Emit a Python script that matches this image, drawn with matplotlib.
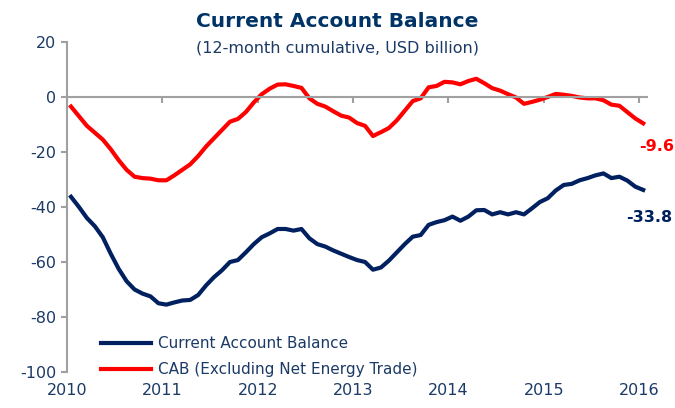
import matplotlib
matplotlib.use("Agg")
import matplotlib.pyplot as plt
import numpy as np

plt.rcParams['font.family'] = ['DejaVu Sans']
plt.rcParams['axes.unicode_minus'] = False

# monthly data, Jan 2010 .. Jan 2016 (USD billion, 12-month cumulative)
cab = [-36.3, -40.0, -44.0, -47.0, -51.0, -57.0, -62.5, -67.0, -70.0, -71.5,
       -72.5, -75.0, -75.5, -74.7, -74.0, -73.8, -72.0, -68.5, -65.5, -63.0,
       -60.0, -59.3, -56.5, -53.5, -51.0, -49.6, -48.0, -48.0, -48.6, -48.0,
       -51.4, -53.5, -54.4, -55.8, -57.0, -58.2, -59.3, -60.0, -62.8, -62.0,
       -59.5, -56.5, -53.5, -50.8, -50.2, -46.5, -45.5, -44.8, -43.5, -45.0,
       -43.5, -41.2, -41.1, -42.7, -41.9, -42.7, -41.9, -42.7, -40.5, -38.2,
       -36.8, -34.0, -32.0, -31.6, -30.3, -29.5, -28.5, -27.8, -29.5, -29.0,
       -30.4, -32.6, -33.8]
cab_ex = [-3.5, -7.0, -10.5, -13.0, -15.5, -19.0, -23.0, -26.5, -29.0, -29.5,
          -29.7, -30.3, -30.3, -28.5, -26.5, -24.5, -21.5, -18.0, -15.0, -12.0,
          -9.0, -8.0, -5.5, -2.0, 1.0, 3.0, 4.5, 4.6, 4.0, 3.3,
          -0.5, -2.5, -3.5, -5.2, -6.8, -7.5, -9.5, -10.5, -14.2, -12.8,
          -11.3, -8.5, -5.0, -1.5, -0.5, 3.5, 4.0, 5.5, 5.3, 4.6,
          5.8, 6.6, 5.0, 3.2, 2.3, 1.0, -0.2, -2.5, -1.8, -1.0,
          0.0, 1.1, 0.8, 0.4, -0.2, -0.5, -0.5, -1.2, -2.8, -3.2,
          -5.5, -7.8, -9.6]
years = [2010, 2011, 2012, 2013, 2014, 2015, 2016]
x = 2010 + (np.arange(len(cab)) + 0.5) / 12

navy = '#002060'
red = '#FF0000'
txt = '#1B3A66'
gray = '#A0A0A0'

fig = plt.figure(figsize=(6.75, 4.08), dpi=100)
ax = fig.add_axes([0.0993, 0.0882, 0.859, 0.809])

ax.plot(x, cab, color=navy, lw=3, label='Current Account Balance', solid_joinstyle='round')
ax.plot(x, cab_ex, color=red, lw=3, label='CAB (Excluding Net Energy Trade)', solid_joinstyle='round')

ax.set_xlim(2010, 2016.08)
ax.set_ylim(-100, 20)
ax.set_yticks(range(-100, 21, 20))
ax.set_xticks(years)

# x axis line sits at zero, labels at the bottom
ax.spines['bottom'].set_position(('data', 0))
ax.spines['top'].set_visible(False)
ax.spines['right'].set_visible(False)
for s in ['bottom', 'left']:
    ax.spines[s].set_color(gray)
    ax.spines[s].set_linewidth(1.5)
ax.tick_params(axis='x', direction='out', length=4, width=1.5, color=gray, labelbottom=False)
ax.tick_params(axis='y', direction='out', length=4.5, width=1.5, color=gray,
               labelcolor=txt, labelsize=11.5, pad=3)

sec = ax.secondary_xaxis('bottom')
sec.set_xticks(years)
sec.spines['bottom'].set_visible(False)
sec.tick_params(length=0, labelcolor=txt, labelsize=11.5, pad=8)

ax.annotate(f'{cab_ex[-1]:.1f}', xy=(x[-1], cab_ex[-1]), xytext=(10, -17),
            textcoords='offset points', ha='center', va='center',
            color=red, fontsize=11.5, fontweight='bold')
ax.annotate(f'{cab[-1]:.1f}', xy=(x[-1], cab[-1]), xytext=(4, -20),
            textcoords='offset points', ha='center', va='center',
            color=navy, fontsize=11.5, fontweight='bold')

ax.legend(loc='lower left', bbox_to_anchor=(0.035, -0.058), frameon=False,
          handlelength=3.3, handletextpad=0.4, labelspacing=0.75,
          fontsize=11, labelcolor=txt)

fig.text(0.5, 0.948, 'Current Account Balance', ha='center', va='center',
         color='#003366', fontsize=14.5, fontweight='bold')
fig.text(0.5, 0.883, '(12-month cumulative, USD billion)', ha='center', va='center',
         color=txt, fontsize=11.5)

fig.savefig('out.png', dpi=100)
